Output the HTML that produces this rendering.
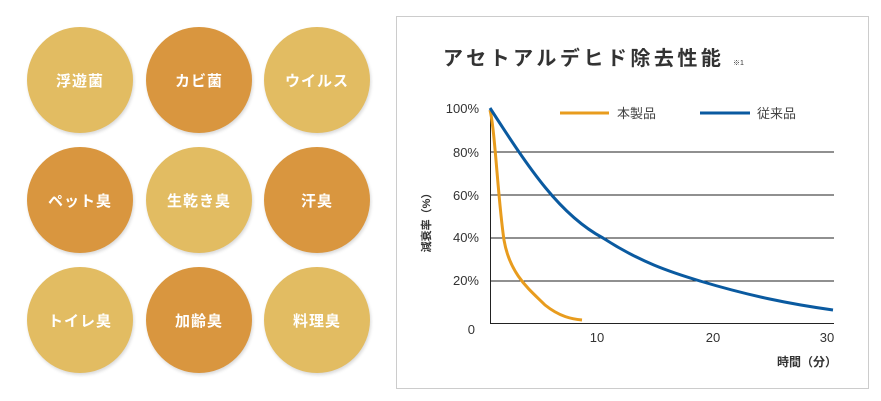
<!DOCTYPE html><html><head><meta charset="utf-8"><style>
body{margin:0;width:881px;height:401px;background:#fff;position:relative;overflow:hidden;font-family:"Liberation Sans","Noto Sans CJK JP",sans-serif}
.c{position:absolute;width:106px;height:106px;border-radius:50%;display:flex;align-items:center;justify-content:center;color:#fff;font-weight:bold;font-size:15px;letter-spacing:1px;box-shadow:1px 2px 3px rgba(0,0,0,.15)}
.l{background:#e2bc62}.d{background:#d9963f}
</style></head><body>
<div class="c l" style="left:27px;top:27px">浮遊菌</div>
<div class="c d" style="left:146px;top:27px">カビ菌</div>
<div class="c l" style="left:264px;top:27px">ウイルス</div>
<div class="c d" style="left:27px;top:147px">ペット臭</div>
<div class="c l" style="left:146px;top:147px">生乾き臭</div>
<div class="c d" style="left:264px;top:147px">汗臭</div>
<div class="c l" style="left:27px;top:267px">トイレ臭</div>
<div class="c d" style="left:146px;top:267px">加齢臭</div>
<div class="c l" style="left:264px;top:267px">料理臭</div>
<svg style="position:absolute;left:0;top:0" width="881" height="401" font-family="Liberation Sans,Noto Sans CJK JP,sans-serif">
<rect x="396.5" y="16.5" width="472" height="372" fill="#fff" stroke="#ccc"/>
<text x="443" y="65" font-size="20" font-weight="bold" fill="#333" letter-spacing="3.5">アセトアルデヒド除去性能</text>
<text x="733" y="65" font-size="7" fill="#333">※1</text>
<g stroke="#222" stroke-width="1">
<line x1="490" y1="152" x2="834" y2="152"/><line x1="490" y1="195" x2="834" y2="195"/><line x1="490" y1="238" x2="834" y2="238"/><line x1="490" y1="281" x2="834" y2="281"/>
<line x1="490" y1="323.5" x2="834" y2="323.5"/><line x1="490.5" y1="108" x2="490.5" y2="324"/></g>
<g font-size="13" fill="#333" text-anchor="end">
<text x="479" y="113">100%</text><text x="479" y="157">80%</text><text x="479" y="200">60%</text><text x="479" y="242">40%</text><text x="479" y="285">20%</text><text x="475" y="334">0</text></g>
<g font-size="13" fill="#333" text-anchor="middle"><text x="597" y="342">10</text><text x="713" y="342">20</text><text x="827" y="342">30</text></g>
<text x="837" y="366" font-size="12" fill="#333" text-anchor="end" font-weight="bold">時間（分）</text>
<text transform="translate(430,220) rotate(-90)" font-size="11" fill="#333" text-anchor="middle" font-weight="bold">減衰率（%）</text>
<line x1="560" y1="113" x2="609" y2="113" stroke="#e89c1e" stroke-width="3"/>
<text x="617" y="118" font-size="13" fill="#444">本製品</text>
<line x1="700" y1="113" x2="750" y2="113" stroke="#0a5aa0" stroke-width="3"/>
<text x="757" y="118" font-size="13" fill="#444">従来品</text>
<path d="M490,110 C495,130 498,200 504,240 C510,275 530,290 545,305 C560,317 572,319 582,320" fill="none" stroke="#e89c1e" stroke-width="3"/>
<path d="M490,108 C530,170 560,215 603,238 C640,262 670,272 700,281 C750,296 790,304 833,310" fill="none" stroke="#0a5aa0" stroke-width="3"/>
</svg>
</body></html>
